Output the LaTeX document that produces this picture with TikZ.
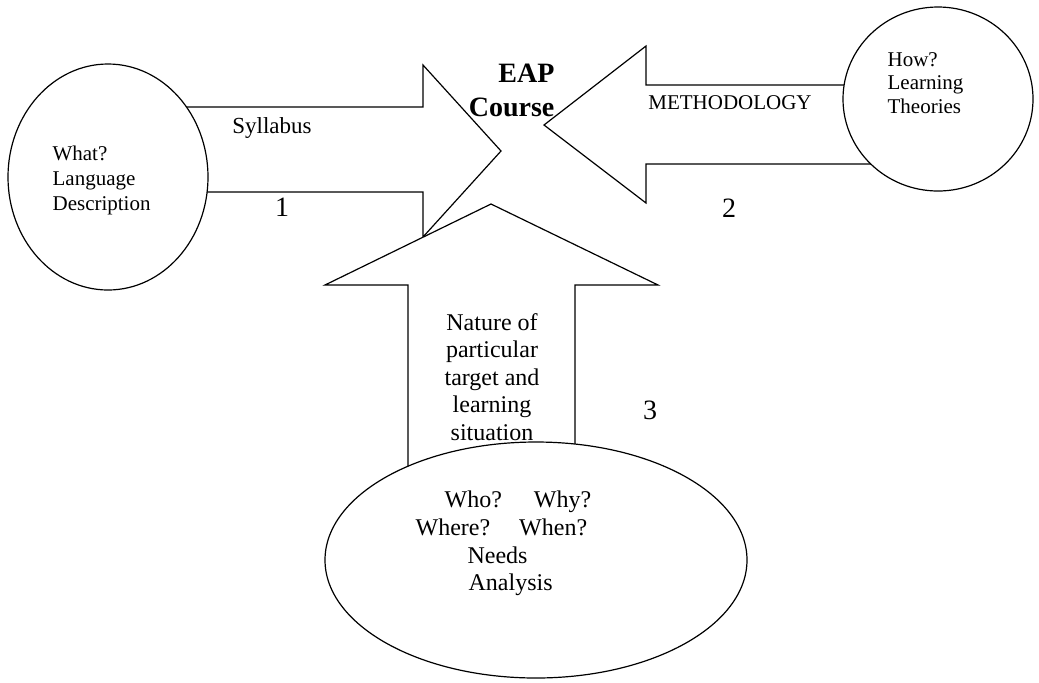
\documentclass[tikz,border=0pt]{standalone}
\usepackage{fontspec}
\setmainfont{Liberation Serif}
\usepackage{tikz}
\usetikzlibrary{shapes.geometric}

\begin{document}
\begin{tikzpicture}[x=0.5pt, y=-0.5pt, line width=0.6pt,
        blockarrow/.style={draw, fill=white, line join=miter},
        bubble/.style={draw, fill=white, ellipse, inner sep=0pt},
        smalltext/.style={inner sep=0pt, font=\fontsize{10.5}{12.5}\selectfont},
        midtext/.style={inner sep=0pt, font=\fontsize{12}{13.8}\selectfont},
        number/.style={inner sep=0pt, font=\fontsize{14}{16}\selectfont}]
            \useasboundingbox (0,0) rectangle (1039,682);
            % the three block arrows
            \draw [blockarrow] (108,107) -- (423,107) -- (423,65) -- (501,151) -- (423,237) -- (423,192) -- (108,192) -- cycle;
            \draw [blockarrow] (938,85) -- (646,85) -- (646,46) -- (544,125) -- (646,203) -- (646,164) -- (938,164) -- cycle;
            \draw [blockarrow] (408,560) -- (408,285) -- (325,285) -- (491,204) -- (658,285) -- (575,285) -- (575,560) -- cycle;
            % the three sources
            \node (what) [bubble, minimum width=100pt, minimum height=113pt] at (108,177) {};
            \node (how) [bubble, minimum width=95pt, minimum height=92pt] at (938,99) {};
            \node (needs) [bubble, minimum width=211pt, minimum height=118pt] at (536,560) {};
            \node (whattext) [smalltext, anchor=west, align=left] at (52,180) {What?\\Language\\Description};
            \node (howtext) [smalltext, anchor=west, align=left, font=\fontsize{10.5}{11.75}\selectfont] at (887,83) {How?\\Learning\\Theories};
            \node (needstext) [midtext, anchor=west, align=left] at (415,543.5) {\hspace*{14.5pt}Who?\hspace{16pt}Why?\\Where?\hspace{14.5pt}When?\\\hspace*{26pt}Needs\\\hspace*{26.5pt}Analysis};
            \node (course) [inner sep=0pt, anchor=east, align=right, font=\fontsize{14}{17}\selectfont\bfseries] at (555,90) {EAP\\Course};
            \node (syllabus) [smalltext, font=\fontsize{11.5}{13}\selectfont] at (272,128) {Syllabus};
            \node (method) [smalltext] at (730,103) {METHODOLOGY};
            \node (nature) [midtext, align=center, font=\fontsize{12}{13.75}\selectfont] at (492,377) {Nature of\\particular\\target and\\learning\\situation};
            \node (one) [number] at (282,207) {1};
            \node (two) [number] at (729,208) {2};
            \node (three) [number] at (650,410) {3};
        \end{tikzpicture}
\end{document}
